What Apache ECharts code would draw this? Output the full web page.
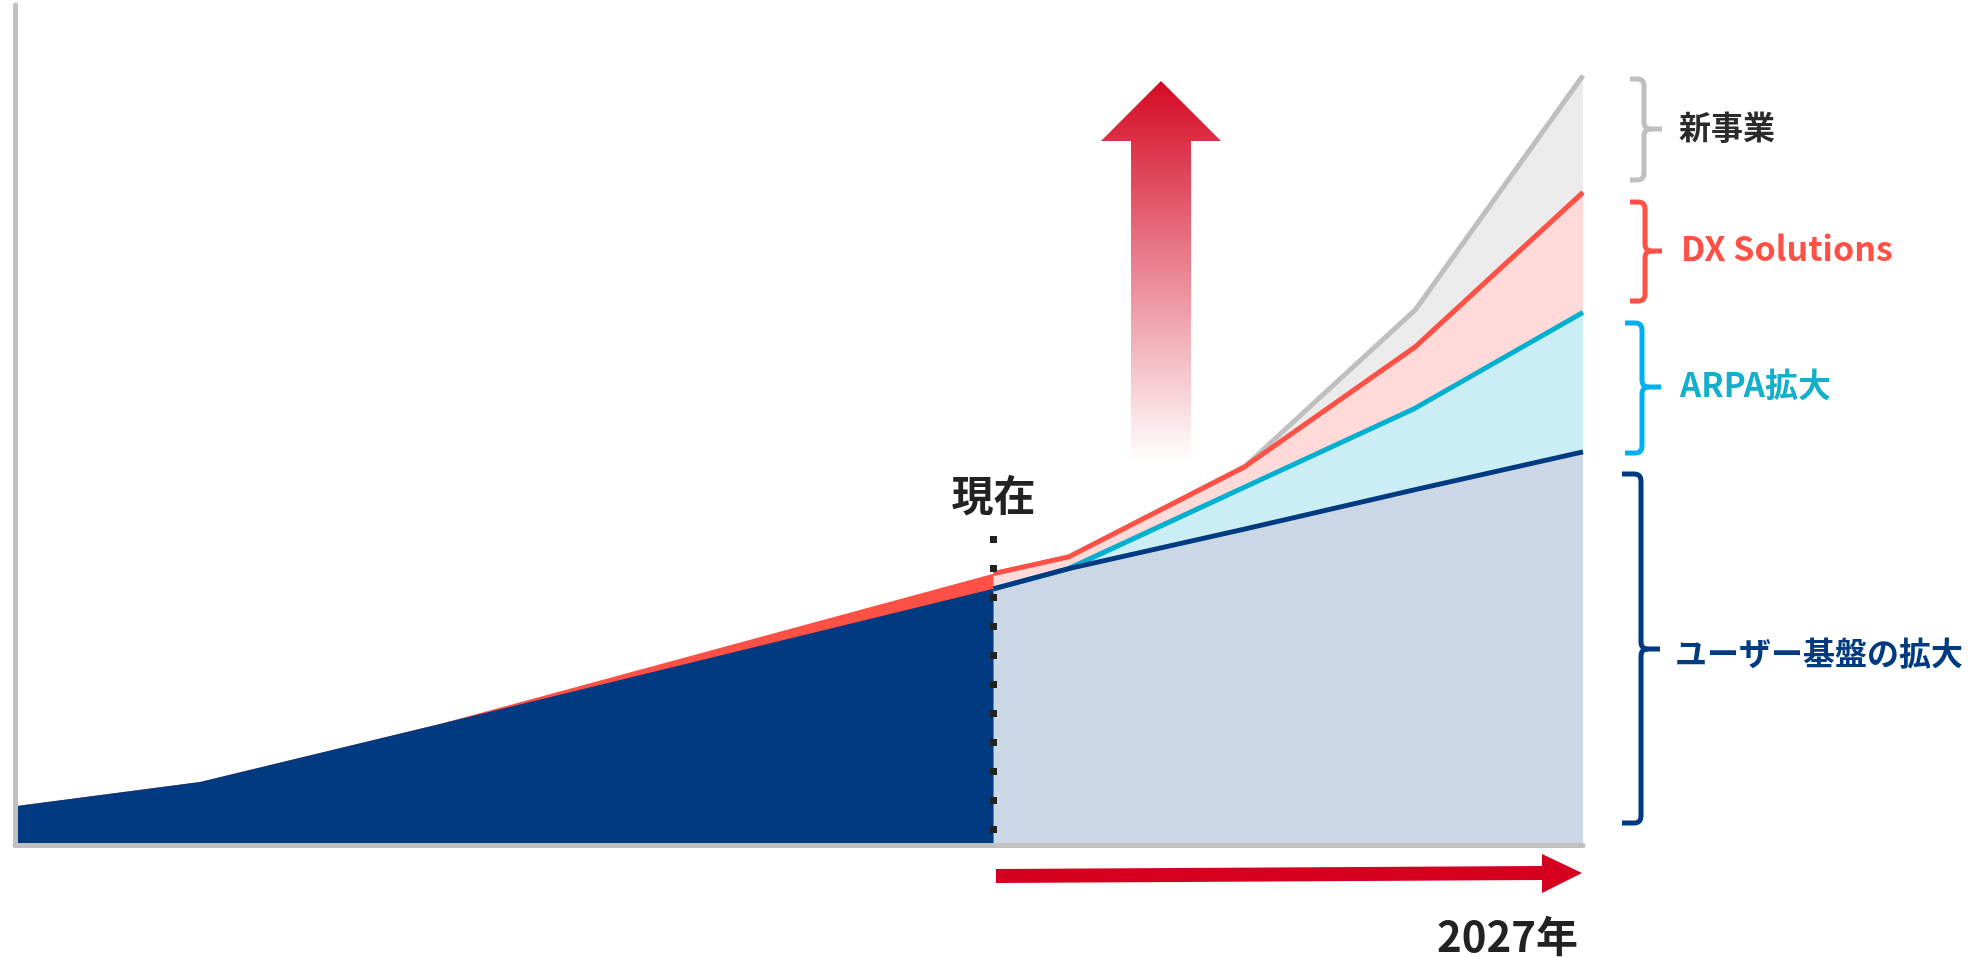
<!DOCTYPE html>
<html>
<head>
<meta charset="utf-8">
<script src="https://cdn.jsdelivr.net/npm/echarts@6/dist/echarts.min.js"></script>
<style>
  html, body { margin: 0; padding: 0; background: #fff; }
  #myChart { width: 1977px; height: 957px; }
</style>
</head>
<body>
<div id="myChart"></div>
<script>
// 過去（現在まで）
var pastX = [0, 11.8, 27.1, 62.4];
var pastBase = [4.6, 7.5, 14.4, 30.5];
var pastDX = [0, 0, 0, 1.8];

// 現在 → 2027年
var futureX = [62.4, 67.2, 78.4, 89.3, 100];
var futureBase = [30.5, 32.9, 37.6, 42.3, 46.8];   // ユーザー基盤の拡大
var futureARPA = [0, 0, 5.0, 9.7, 16.6];           // ARPA拡大
var futureDX = [1.8, 1.4, 2.4, 7.3, 14.3];         // DX Solutions
var futureNew = [0, 0, 0, 4.4, 13.9];              // 新事業

var nowTop = 36.8; // 現在の点線の上端

var FONT = '"Noto Sans CJK JP", "Noto Sans", sans-serif';

function pairs(xs, ys) {
  return xs.map(function (x, i) { return [x, ys[i]]; });
}
function sum() {
  var arrs = arguments;
  return arrs[0].map(function (_, i) {
    var s = 0;
    for (var k = 0; k < arrs.length; k++) s += arrs[k][i];
    return +s.toFixed(2);
  });
}

function areaSeries(data, lineColor, lineWidth, fill) {
  return {
    type: 'line',
    data: data,
    showSymbol: false,
    symbol: 'none',
    silent: true,
    lineStyle: { color: lineColor, width: lineWidth },
    areaStyle: { color: fill, opacity: 1 }
  };
}

// 角を丸めた点列 (二次ベジェを分割)
function curve(p0, c, p1) {
  var pts = [];
  for (var t = 0; t <= 1.0001; t += 0.2) {
    var a = (1 - t) * (1 - t), b = 2 * (1 - t) * t, d = t * t;
    pts.push([a * p0[0] + b * c[0] + d * p1[0], a * p0[1] + b * c[1] + d * p1[1]]);
  }
  return pts;
}
// 括弧の形
function bracket(xl, xv, xr, top, mid, bot, color) {
  var r = 7;
  var upper = [[xl, top]]
    .concat(curve([xv - r, top], [xv, top], [xv, top + r]))
    .concat(curve([xv, mid - r], [xv, mid], [xv + r, mid]))
    .concat([[xr, mid]]);
  var lower = curve([xv + r, mid], [xv, mid], [xv, mid + r])
    .concat(curve([xv, bot - r], [xv, bot], [xv - r, bot]))
    .concat([[xl, bot]]);
  var st = { fill: null, stroke: color, lineWidth: 5, lineJoin: 'round' };
  return [
    { type: 'polyline', shape: { points: upper }, style: st, z: 20 },
    { type: 'polyline', shape: { points: lower }, style: st, z: 20 }
  ];
}
function label(text, x, y, color, size) {
  return {
    type: 'text',
    x: x, y: y,
    style: {
      text: text, fill: color, fontSize: size, fontWeight: 'bold', fontFamily: FONT,
      align: 'left', verticalAlign: 'middle'
    },
    z: 20
  };
}

var myChart = echarts.init(document.getElementById('myChart'));

var graphics = [
  // 上向きの矢印
  {
    type: 'polygon',
    shape: { points: [[1161, 81], [1221, 141], [1191, 141], [1191, 462], [1131, 462], [1131, 141], [1101, 141]] },
    style: {
      fill: {
        type: 'linear', x: 0, y: 0, x2: 0, y2: 1,
        colorStops: [{ offset: 0, color: '#d50a24' }, { offset: 1, color: 'rgba(213,10,36,0)' }]
      }
    },
    z: 5
  },
  // 右向きの矢印
  {
    type: 'polygon',
    shape: { points: [[996, 869], [1542, 866], [1542, 854], [1582, 873], [1542, 893], [1542, 880], [996, 883]] },
    style: { fill: '#d5001f' },
    z: 5
  },
  {
    type: 'text', x: 1578, y: 936,
    style: {
      text: '2027年', fill: '#222', fontSize: 42, fontWeight: 'bold', fontFamily: FONT,
      align: 'right', verticalAlign: 'middle'
    },
    z: 20
  },
  label('新事業', 1679, 127, '#2b2b2b', 32),
  label('DX Solutions', 1681, 248, '#ff5046', 34),
  label('ARPA拡大', 1680, 384, '#14afcb', 33),
  label('ユーザー基盤の拡大', 1675, 653, '#003b82', 32)
]
  .concat(bracket(1630, 1644, 1662, 79, 129, 180, '#bfbfbf'))
  .concat(bracket(1630, 1645, 1662, 202, 251, 301, '#ff5046'))
  .concat(bracket(1625, 1642, 1661, 323, 387, 453, '#00b0f0'))
  .concat(bracket(1622, 1641, 1660, 474, 649, 823, '#003b82'));

myChart.setOption({
  animation: false,
  backgroundColor: '#fff',
  grid: { left: 15, right: 394, top: 5, bottom: 112 },
  xAxis: {
    type: 'value', min: 0, max: 100, z: 10,
    axisLine: { show: true, lineStyle: { color: '#c0c0c0', width: 5 } },
    axisTick: { show: false }, axisLabel: { show: false }, splitLine: { show: false }
  },
  yAxis: {
    type: 'value', min: 0, max: 100, z: 10,
    axisLine: { show: true, lineStyle: { color: '#c0c0c0', width: 5 } },
    axisTick: { show: false }, axisLabel: { show: false }, splitLine: { show: false }
  },
  series: [
    areaSeries(pairs(futureX, sum(futureBase, futureARPA, futureDX, futureNew)), '#bfbfbf', 5, '#ebebeb'),
    areaSeries(pairs(futureX, sum(futureBase, futureARPA, futureDX)), '#ff5046', 5, '#ffdad9'),
    areaSeries(pairs(futureX, sum(futureBase, futureARPA)), '#00b0d0', 5, '#cbedf4'),
    areaSeries(pairs(futureX, futureBase), '#003a80', 5, '#cbd7e5'),
    areaSeries(pairs(pastX, sum(pastBase, pastDX)), '#ff5046', 0, '#ff5046'),
    Object.assign(areaSeries(pairs(pastX, pastBase), '#003a80', 0, '#003a80'), {
      markLine: {
        silent: true,
        symbol: ['none', 'none'],
        lineStyle: { color: '#222', width: 7, type: [7, 22], cap: 'butt' },
        label: {
          show: true, position: 'start', formatter: '現在', distance: 20,
          fontSize: 42, fontWeight: 'bold', color: '#222', fontFamily: FONT
        },
        data: [[{ coord: [pastX[pastX.length - 1], nowTop] }, { coord: [pastX[pastX.length - 1], 0] }]]
      }
    })
  ],
  graphic: graphics
});
</script>
</body>
</html>
